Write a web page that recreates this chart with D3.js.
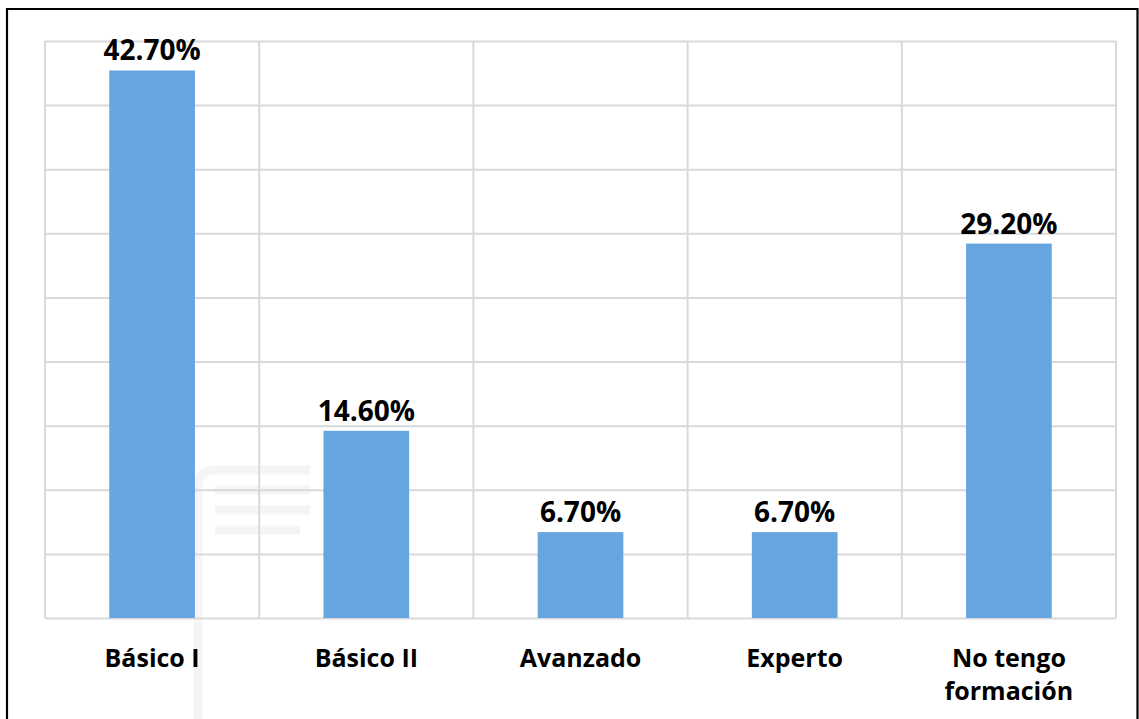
<!DOCTYPE html>
<html>
<head>
<meta charset="utf-8">
<script src="https://cdn.jsdelivr.net/npm/d3@7"></script>
<style>
  body { margin: 0; background: #fff; }
  svg { display: block; }
  .val { font-family: "Open Sans", sans-serif; font-weight: 700; font-size: 28px; fill: #000; }
  .cat { font-family: "Open Sans", sans-serif; font-weight: 700; font-size: 25px; fill: #000; }
</style>
</head>
<body>
<div id="chart"></div>
<script>
// data
var categories = ["Básico I", "Básico II", "Avanzado", "Experto", "No tengo formación"];
var percents = [42.7, 14.6, 6.7, 6.7, 29.2];
var yTicks = [0, 5, 10, 15, 20, 25, 30, 35, 40, 45];

var svgWidth = 1139;
var svgHeight = 719;
var plot = { left: 45, right: 1116, top: 41, bottom: 618 };

var svg = d3.select("#chart")
  .append("svg")
  .attr("width", svgWidth)
  .attr("height", svgHeight);

var rows = categories.map((c, i) => ({ cat: c, val: percents[i] }));

var x = d3.scaleBand()
  .domain(categories)
  .range([plot.left, plot.right])
  .paddingInner(0.6)
  .paddingOuter(0.3);

var y = d3.scaleLinear()
  .domain([0, 45])
  .range([plot.bottom, plot.top]);

// outer frame
svg.append("path")
  .attr("d", `M7,${svgHeight + 2}V9H1137.5V${svgHeight + 2}`)
  .attr("fill", "none")
  .attr("stroke", "#000")
  .attr("stroke-width", 2.2);

// faint logo frame of the watermark (behind the chart)
svg.append("path")
  .attr("d", "M310,470H215Q198,470 198,487V719 M215,490H310 M215,510H310 M215,530H300")
  .attr("fill", "none")
  .attr("stroke", "#000")
  .attr("stroke-opacity", 0.04)
  .attr("stroke-width", 9);

// horizontal gridlines
var yGrid = svg.append("g")
  .attr("transform", `translate(${plot.left},0)`)
  .call(d3.axisLeft(y).tickValues(yTicks).tickSize(-(plot.right - plot.left)).tickFormat(""));
yGrid.select(".domain").remove();
yGrid.selectAll(".tick line").attr("stroke", "#d9d9d9").attr("stroke-width", 2);

// vertical gridlines at band edges
var gap = (x.step() - x.bandwidth()) / 2;
var edges = categories.map(c => x(c) - gap).concat([plot.right]);
svg.append("g").selectAll("line")
  .data(edges)
  .enter()
  .append("line")
  .attr("x1", d => d).attr("x2", d => d)
  .attr("y1", plot.top).attr("y2", plot.bottom)
  .attr("stroke", "#d9d9d9")
  .attr("stroke-width", 2);

// bars
svg.append("g").selectAll("rect")
  .data(rows)
  .enter()
  .append("rect")
  .attr("x", d => x(d.cat))
  .attr("y", d => y(d.val))
  .attr("width", x.bandwidth())
  .attr("height", d => y(0) - y(d.val))
  .attr("fill", "#66a5e0");

// value labels
svg.append("g").selectAll("text")
  .data(rows)
  .enter()
  .append("text")
  .attr("class", "val")
  .attr("x", d => x(d.cat) + x.bandwidth() / 2)
  .attr("y", d => y(d.val) - 10)
  .attr("text-anchor", "middle")
  .text(d => d3.format(".2f")(d.val) + "%");

// category labels, wrapped to the band width
var catText = svg.append("g").selectAll("text")
  .data(rows)
  .enter()
  .append("text")
  .attr("class", "cat")
  .attr("x", d => x(d.cat) + x.bandwidth() / 2)
  .attr("y", 667)
  .attr("text-anchor", "middle");

catText.each(function(d) {
  var t = d3.select(this);
  var words = d.cat.split(" ");
  var line = [];
  var tspan = t.append("tspan").attr("x", t.attr("x")).attr("dy", 0);
  words.forEach(function(w) {
    line.push(w);
    tspan.text(line.join(" "));
    if (tspan.node().getComputedTextLength() > 170 && line.length > 1) {
      line.pop();
      tspan.text(line.join(" "));
      line = [w];
      tspan = t.append("tspan").attr("x", t.attr("x")).attr("dy", 33).text(w);
    }
  });
});
</script>
</body>
</html>
